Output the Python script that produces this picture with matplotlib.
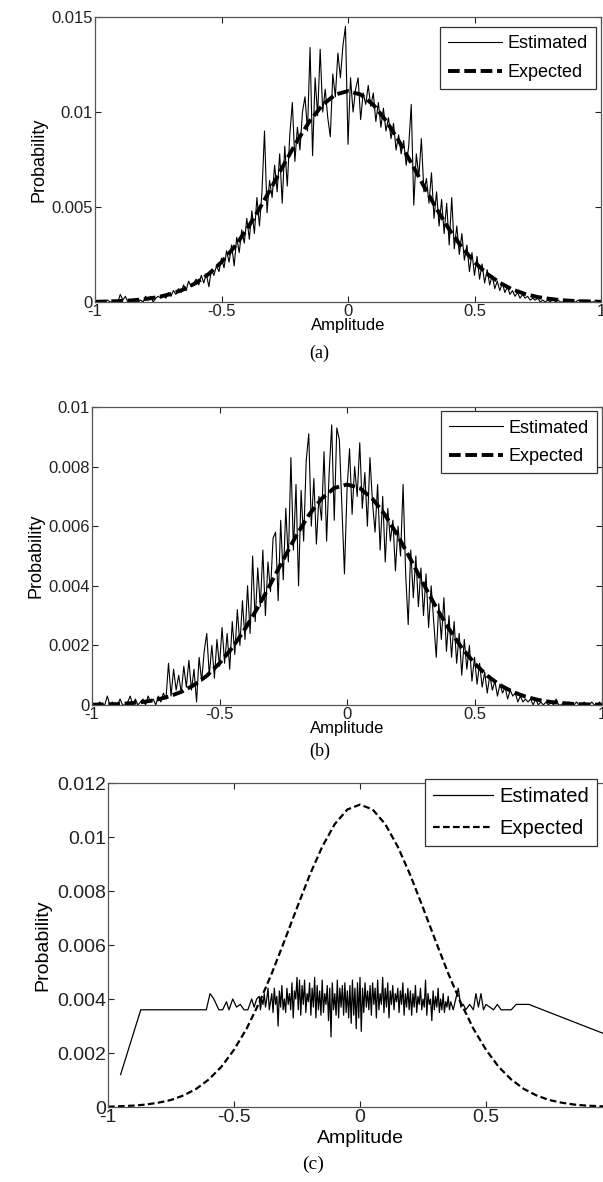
import numpy as np
import matplotlib
matplotlib.use("Agg")
import matplotlib.pyplot as plt

plt.rcParams['font.family'] = ['Liberation Sans', 'DejaVu Sans']

SCALE = 1e-4  # values below are in units of 1e-4

# ---------------- Panel (a) ----------------
x_est_ab = np.round(np.linspace(-1.0, 1.0, 201), 3)
est_a = [0, 0, 0, 0, 0, 1, 0, 0, 0, 0, 4, 1, 3, 0, 1, 0, 0, 0, 1, 0,
         3, 1, 3, 0, 2, 3, 2, 4, 2, 5,
         3, 6, 4, 7, 5, 9, 6, 11, 8, 10,
         12, 9, 14, 10, 15, 8, 17, 14, 19, 16,
         23, 18, 27, 21, 30, 19, 34, 26, 38, 31,
         44, 33, 48, 36, 55, 40, 58, 90, 47, 64,
         55, 72, 58, 78, 52, 82, 61, 88, 105, 74,
         92, 80, 100, 108, 90, 134, 77, 118, 98, 133,
         100, 112, 97, 87, 120, 108, 131, 118, 135, 145,
         83,
         118, 100, 112, 118, 96, 110, 104, 114, 103, 110,
         95, 105, 92, 102, 90, 97, 86, 94, 80, 88,
         78, 85, 72, 82, 104, 51, 78, 66, 86, 58,
         65, 52, 68, 44, 58, 40, 54, 36, 52, 30,
         55, 28, 40, 25, 36, 22, 30, 16, 26, 14,
         24, 12, 20, 10, 17, 9, 14, 7, 11, 6,
         10, 5, 8, 4, 6, 3, 5, 2, 4, 2,
         3, 1, 2, 1, 2, 0, 1, 0, 1, 0,
         2, 0, 1, 0, 0, 1, 0, 1, 0, 0,
         1, 0, 0, 1, 0, 0, 0, 1, 0, 0]

x_exp = np.round(np.linspace(-1.0, 1.0, 41), 3)
exp_a = [0.1, 0.3, 0.5, 0.9, 1.6, 2.6, 4.2, 6.6, 10.1, 14.8, 21.0, 28.8, 38.2, 49.1,
         60.9, 73.2, 85.0, 95.5, 103.8, 109.2, 111.0, 109.2, 103.8, 95.5, 85.0, 73.2,
         60.9, 49.1, 38.2, 28.8, 21.0, 14.8, 10.1, 6.6, 4.2, 2.6, 1.6, 0.9, 0.5, 0.3, 0.1]

# ---------------- Panel (b) ----------------
est_b = [0, 0, 0, 1, 0, 0, 3, 0, 1, 0, 0, 2, 0, 0, 1, 3, 0, 2, 0, 1,
         2, 0, 3, 1, 2, 0, 3, 1, 4, 2,
         14, 3, 12, 5, 10, 4, 13, 6, 15, 5,
         12, 1, 16, 8, 18, 24, 10, 20, 9, 22,
         13, 26, 14, 24, 12, 28, 17, 32, 20, 35,
         22, 40, 24, 50, 28, 46, 33, 52, 30, 48,
         38, 56, 58, 35, 62, 42, 66, 48, 83, 52,
         74, 40, 72, 55, 82, 91, 60, 76, 54, 70,
         62, 85, 55, 78, 94, 62, 93, 89, 66, 44,
         72,
         86, 64, 80, 70, 88, 66, 78, 60, 83, 68,
         58, 74, 52, 70, 48, 66, 55, 62, 45, 60,
         50, 74, 44, 27, 52, 36, 50, 33, 46, 30,
         44, 26, 40, 28, 16, 34, 22, 36, 18, 30,
         16, 28, 14, 24, 10, 22, 12, 20, 8, 16,
         7, 14, 6, 11, 4, 10, 5, 8, 3, 7,
         4, 6, 2, 5, 3, 4, 1, 3, 1, 2,
         1, 2, 0, 2, 0, 1, 0, 1, 0, 1,
         0, 2, 0, 0, 1, 0, 1, 0, 0, 1,
         0, 0, 1, 0, 0, 1, 0, 0, 1, 0]

exp_b = [0.1, 0.2, 0.3, 0.6, 1.0, 1.7, 2.8, 4.4, 6.7, 9.8, 14.0, 19.2, 25.5, 32.7,
         40.6, 48.8, 56.7, 63.7, 69.2, 72.8, 74.0, 72.8, 69.2, 63.7, 56.7, 48.8,
         40.6, 32.7, 25.5, 19.2, 14.0, 9.8, 6.7, 4.4, 2.8, 1.7, 1.0, 0.6, 0.3, 0.2, 0.1]

# ---------------- Panel (c) ----------------
xc_left = [-0.95, -0.87, -0.61, -0.595, -0.58, -0.56, -0.545, -0.53, -0.52, -0.505,
           -0.49, -0.475, -0.46, -0.445, -0.43, -0.42, -0.41]
yc_left = [12, 36, 36, 42, 40, 36, 36, 39, 36, 40, 37, 38, 36, 36, 40, 37, 40]
xc_mid = np.round(np.linspace(-0.40, 0.36, 153), 3)
yc_mid = [41, 36, 40, 38, 42, 37, 40, 44, 36, 39,
          42, 35, 44, 38, 41, 30, 43, 37, 45, 36,
          40, 35, 44, 38, 42, 36, 46, 33, 43, 40,
          48, 36, 47, 34, 45, 38, 47, 35, 42, 39,
          46, 34, 44, 37, 48, 33, 45, 36, 43, 34,
          47, 35, 42, 38, 45, 32, 44, 26, 46, 36,
          42, 34, 47, 33, 44, 37, 45, 34, 46, 35,
          43, 33, 45, 31, 47, 34, 44, 29, 46, 33,
          48, 28, 44, 35, 46, 37, 43, 36, 45, 34,
          46, 38, 44, 33, 47, 36, 42, 38, 48, 35,
          44, 37, 46, 33, 43, 38, 45, 36, 42, 39,
          44, 35, 43, 38, 46, 34, 42, 37, 44, 36,
          43, 34, 42, 37, 45, 35, 41, 38, 44, 36,
          40, 37, 47, 34, 42, 38, 40, 32, 43, 36,
          41, 37, 44, 35, 40, 36, 42, 35, 39, 37,
          41, 36, 39]
xc_right = [0.37, 0.38, 0.39, 0.40, 0.41, 0.42, 0.435, 0.45, 0.46, 0.47, 0.48, 0.49,
            0.50, 0.515, 0.53, 0.545, 0.56, 0.60, 0.62, 0.67, 1.0]
yc_right = [36, 40, 44, 37, 38, 36, 38, 36, 42, 37, 42, 36, 38, 37, 36, 38, 36, 36,
            38, 38, 26]

exp_c = [0.1, 0.3, 0.5, 0.9, 1.6, 2.6, 4.3, 6.7, 10.2, 14.9, 21.2, 29.0, 38.6, 49.5,
         61.5, 73.8, 85.8, 96.4, 104.8, 110.2, 112.0, 110.2, 104.8, 96.4, 85.8, 73.8,
         61.5, 49.5, 38.6, 29.0, 21.2, 14.9, 10.2, 6.7, 4.3, 2.6, 1.6, 0.9, 0.5, 0.3, 0.1]

xticks = [-1, -0.5, 0, 0.5, 1]
xticklabels = ['-1', '-0.5', '0', '0.5', '1']
yticks_a = [0, 0.005, 0.01, 0.015]
yticklabels_a = ['0', '0.005', '0.01', '0.015']
yticks_b = [0, 0.002, 0.004, 0.006, 0.008, 0.01]
yticklabels_b = ['0', '0.002', '0.004', '0.006', '0.008', '0.01']
yticks_c = [0, 0.002, 0.004, 0.006, 0.008, 0.01, 0.012]
yticklabels_c = ['0', '0.002', '0.004', '0.006', '0.008', '0.01', '0.012']

W, H = 603, 1182
fig = plt.figure(figsize=(W / 100, H / 100), dpi=100)


def box(l, t, r, b):
    return [l / W, 1 - b / H, (r - l) / W, (b - t) / H]


def style(ax, yt, ytl, ymax, fs):
    ax.set_xlim(-1, 1)
    ax.set_ylim(0, ymax)
    ax.set_xticks(xticks)
    ax.set_xticklabels(xticklabels)
    ax.set_yticks(yt)
    ax.set_yticklabels(ytl)
    ax.tick_params(direction='in', top=True, right=True, length=4, width=0.8,
                   labelsize=fs, pad=1.5, colors='#222222')
    for s in ax.spines.values():
        s.set_color('#555555')
        s.set_linewidth(0.9)


panels = [
    dict(box=box(95, 17, 601, 302), est_x=x_est_ab, est=est_a, exp=exp_a,
         yt=yticks_a, ytl=yticklabels_a, ymax=0.015, fs=12, cap='(a)', cap_y=353,
         xlp=-1, lw_exp=2.8, dash=(3.0, 1.2), lw_est=0.8, leg_fs=13,
         anchor=(0.99, 0.965)),
    dict(box=box(92, 407, 602, 705), est_x=x_est_ab, est=est_b, exp=exp_b,
         yt=yticks_b, ytl=yticklabels_b, ymax=0.01, fs=12, cap='(b)', cap_y=751,
         xlp=-0.5, lw_exp=2.8, dash=(3.0, 1.2), lw_est=0.8, leg_fs=13,
         anchor=(0.99, 0.985)),
]

for p in panels:
    ax = fig.add_axes(p['box'])
    ax.plot(p['est_x'], np.array(p['est']) * SCALE, color='black', lw=p['lw_est'],
            label='Estimated')
    ax.plot(x_exp, np.array(p['exp']) * SCALE, color='black', lw=p['lw_exp'],
            linestyle=(0, p['dash']), label='Expected')
    style(ax, p['yt'], p['ytl'], p['ymax'], p['fs'])
    ax.set_xlabel('Amplitude', fontsize=p['fs'], labelpad=p['xlp'])
    ax.set_ylabel('Probability', fontsize=13, labelpad=3)
    leg = ax.legend(loc='upper right', fontsize=p['leg_fs'], fancybox=False,
                    edgecolor='#333333', framealpha=1, handlelength=3.0,
                    handletextpad=0.3, borderpad=0.45, labelspacing=0.65,
                    bbox_to_anchor=p['anchor'], borderaxespad=0)
    leg.get_frame().set_linewidth(0.9)
    fig.text(0.5 + 0.03, 1 - p['cap_y'] / H, p['cap'], ha='center', va='center',
             fontsize=13, family='Liberation Serif')

# Panel (c)
axc = fig.add_axes(box(108, 783, 612, 1107))
xc = np.concatenate([xc_left, xc_mid, xc_right])
yc = np.concatenate([yc_left, yc_mid, yc_right]) * SCALE
axc.plot(xc, yc, color='black', lw=0.9, label='Estimated')
axc.plot(x_exp, np.array(exp_c) * SCALE, color='black', lw=1.6,
         linestyle=(0, (3.0, 1.5)), label='Expected')
style(axc, yticks_c, yticklabels_c, 0.012, 14)
axc.set_xlabel('Amplitude', fontsize=14, labelpad=3)
axc.set_ylabel('Probability', fontsize=14, labelpad=4)
legc = axc.legend(loc='upper right', fontsize=14.5, fancybox=False,
                  edgecolor='#333333', framealpha=1, handlelength=3.0,
                  handletextpad=0.3, borderpad=0.4, labelspacing=0.65,
                  bbox_to_anchor=(0.97, 1.012), borderaxespad=0)
legc.get_frame().set_linewidth(0.9)
fig.text(0.5 + 0.02, 1 - 1164 / H, '(c)', ha='center', va='center',
         fontsize=14, family='Liberation Serif')

fig.savefig('out.png', dpi=100)
